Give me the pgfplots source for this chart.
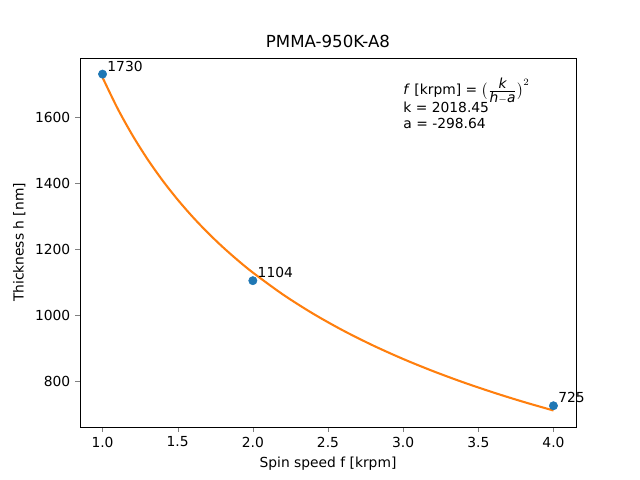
\documentclass[border=0pt]{standalone}
\usepackage{fontspec}
\setmainfont{DejaVu Sans}
\usepackage{pgfplots}
\pgfplotsset{compat=1.18}
\begin{document}
\begin{tikzpicture}
\definecolor{mplblue}{HTML}{1F77B4}
\definecolor{mplorange}{HTML}{FF7F0E}
\path[use as bounding box] (0,0) rectangle (6.4in,4.8in);
\begin{axis}[
  at={(0.8in,0.53in)}, anchor=south west,
  scale only axis, width=4.96in, height=3.69in,
  xmin=0.85, xmax=4.15, ymin=660.6, ymax=1778.8,
  xtick={1.0,1.5,2.0,2.5,3.0,3.5,4.0},
  ytick={800,1000,1200,1400,1600},
  xticklabel style={/pgf/number format/.cd,fixed,fixed zerofill,precision=1},
  /pgf/number format/assume math mode=true,
  /pgf/number format/1000 sep={},
  tick label style={font=\fontsize{10}{12}\selectfont},
  label style={font=\fontsize{10}{12}\selectfont},
  tick align=outside, tick pos=left,
  major tick length=3.5pt,
  xlabel={Spin speed f [krpm]}, ylabel={Thickness h [nm]},
  title={PMMA-950K-A8}, title style={font=\fontsize{12}{14}\selectfont, yshift=-2pt},
  clip=false,
]
\addplot[mplorange, line width=1.5pt, no markers, smooth] coordinates {
(1.0,1719.81) (1.1,1625.87) (1.2,1543.94) (1.3,1471.65) (1.4,1407.25)
(1.5,1349.42) (1.6,1297.08) (1.7,1249.44) (1.8,1205.82) (1.9,1165.71)
(2.0,1128.60) (2.2,1062.18) (2.4,1004.26) (2.6,953.14) (2.8,907.61)
(3.0,866.71) (3.2,829.70) (3.4,796.01) (3.6,765.18) (3.8,736.81) (4.0,710.59)
};
\addplot[only marks, mark=*, mark size=3pt, mplblue, nodes near coords,
  point meta=explicit symbolic,
  every node near coord/.style={anchor=base west, text=black, font=\fontsize{10}{12}\selectfont, xshift=0pt, yshift=2pt}]
  coordinates {(1,1730)[1730] (2,1104)[1104] (4,725)[725]};
\node[anchor=north west, align=left, font=\fontsize{10}{11.5}\selectfont, inner sep=0pt]
  at (axis cs:3.0,1718) {\textit{f} [krpm] = $\bigl(\frac{\textit{k}}{\textit{h}-\textit{a}}\bigr)^{2}$\\[-2pt] k = 2018.45\\ a = -298.64};
\end{axis}
\end{tikzpicture}
\end{document}
